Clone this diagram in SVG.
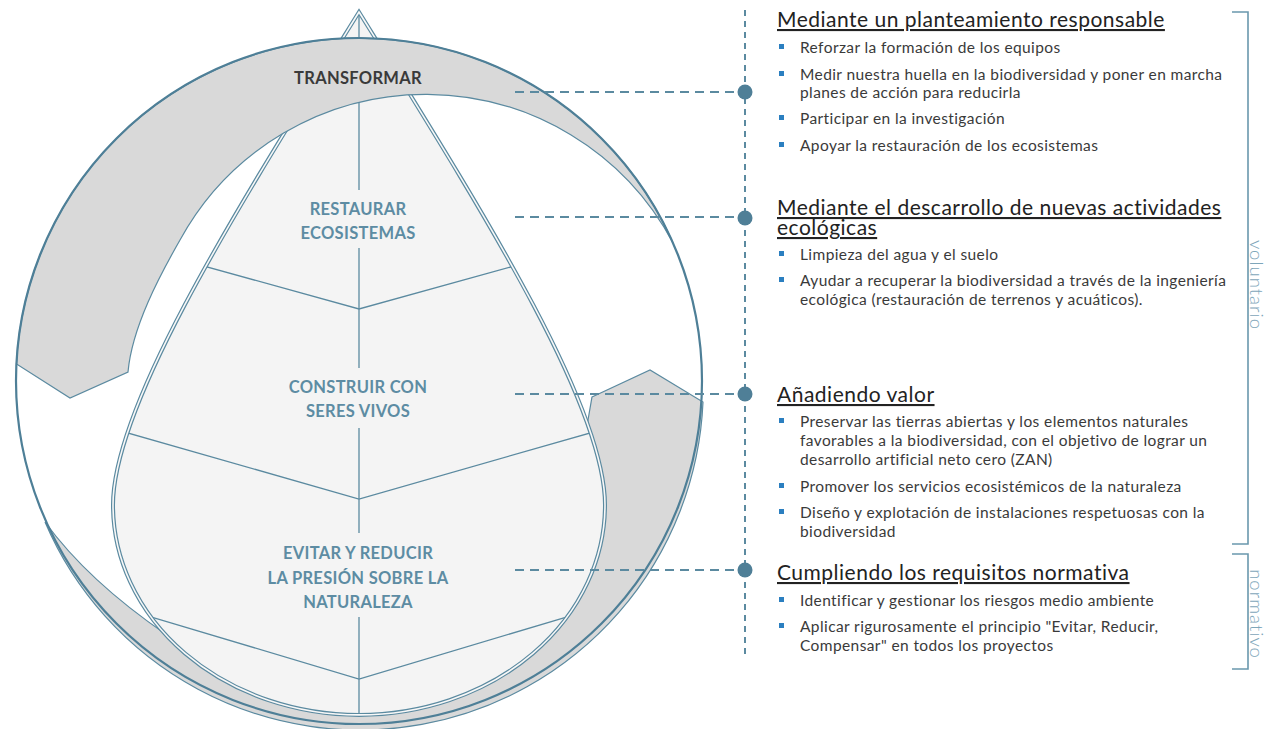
<svg xmlns="http://www.w3.org/2000/svg" width="1266" height="729" viewBox="0 0 1266 729">
<defs>
<style>
.ln{stroke:#5b8aa0;fill:none}
.band{fill:#d9d9d9;stroke:#5b8aa0;stroke-width:1.2}
.lbl{font-family:Lato,"Noto Sans",sans-serif;font-weight:700;font-size:16.5px;letter-spacing:0.3px;fill:#5d8ca3;text-anchor:middle}
.lbl.dark{fill:#3a3a3a}
.hd{font-family:Lato,"Noto Sans",sans-serif;font-size:21px;letter-spacing:0.5px;fill:#222;text-decoration:underline}
.bt{font-family:Lato,"Noto Sans",sans-serif;font-size:15.5px;letter-spacing:0.4px;fill:#3a3a3a}
.bul{fill:#2b7fc0}
.dash{stroke:#5b8aa0;stroke-width:2;stroke-dasharray:9 6;fill:none}
.vdash{stroke:#5b8aa0;stroke-width:2;stroke-dasharray:6 5;fill:none}
.dot{fill:#4f7f97}
.br{stroke:#6a98ad;stroke-width:1.6;fill:none}
.side{font-family:Lato,"Noto Sans",sans-serif;font-size:18.5px;letter-spacing:1px;fill:#7ea6ba;text-anchor:middle;font-weight:300}
</style>
<path id="dropShape" d="M359,12 C235,212 113,405 113,505 A246,210 0 0 0 605,505 C605,405 483,212 359,12 Z"/>
<clipPath id="dropClip"><use href="#dropShape"/></clipPath>
</defs>

<g id="circle">
<circle cx="359" cy="381" r="343" fill="#fff"/>
</g>

<g id="band-bottom">
<path class="band" d="M592,397 L650,370 L703,402 A343,343 0 0 1 45,522 Q88,581 167,635 L359,652 L585,440 L588,420 Z"/>
</g>

<g id="drop">
<use href="#dropShape" fill="#f4f4f4"/>
<g clip-path="url(#dropClip)" class="ln" stroke-width="1.3">
<path d="M359,12 V190 M359,248 V368 M359,428 V533 M359,617 V716"/>
<path d="M100,237.3 L359,309 L618,237.3"/>
<path d="M100,425 L359,499 L618,425"/>
<path d="M100,601.7 L359,679 L618,601.7"/>
</g>
<use href="#dropShape" fill="none" stroke="#5b8aa0" stroke-width="4"/>
<use href="#dropShape" fill="none" stroke="#f8f8f8" stroke-width="1.6"/>
</g>

<g id="band-top">
<path class="band" d="M16.5,364 A343,343 0 0 1 673,243 A280,280 0 0 0 180,240 C160,275 132,327 128,372 L70,398 Z"/>
</g>

<g id="circle-outline">
<circle cx="359" cy="381" r="343" fill="none" stroke="#4e7f97" stroke-width="2.2"/>
</g>

<g id="labels">
<text class="lbl dark" x="358" y="84">TRANSFORMAR</text>
<text class="lbl" x="358" y="215">RESTAURAR</text>
<text class="lbl" x="358" y="239">ECOSISTEMAS</text>
<text class="lbl" x="358" y="393">CONSTRUIR CON</text>
<text class="lbl" x="358" y="417">SERES VIVOS</text>
<text class="lbl" x="358" y="559">EVITAR Y REDUCIR</text>
<text class="lbl" x="358" y="584">LA PRESIÓN SOBRE LA</text>
<text class="lbl" x="358" y="608">NATURALEZA</text>
</g>

<g id="connectors">
<path class="vdash" d="M745,10 V658"/>
<path class="dash" d="M515,92 H745 M515,217 H745 M515,394 H745 M515,570 H745"/>
<circle class="dot" cx="745" cy="92" r="7.5"/>
<circle class="dot" cx="745" cy="218" r="7.5"/>
<circle class="dot" cx="745" cy="394" r="7.5"/>
<circle class="dot" cx="745" cy="570" r="7.5"/>
</g>

<g id="sec1">
<text class="hd" x="777" y="27">Mediante un planteamiento responsable</text>
<rect class="bul" x="779" y="44" width="5" height="5"/>
<text class="bt" x="800" y="53">Reforzar la formación de los equipos</text>
<rect class="bul" x="779" y="71" width="5" height="5"/>
<text class="bt" x="800" y="80">Medir nuestra huella en la biodiversidad y poner en marcha</text>
<text class="bt" x="800" y="98">planes de acción para reducirla</text>
<rect class="bul" x="779" y="115" width="5" height="5"/>
<text class="bt" x="800" y="124">Participar en la investigación</text>
<rect class="bul" x="779" y="142" width="5" height="5"/>
<text class="bt" x="800" y="151">Apoyar la restauración de los ecosistemas</text>
</g>

<g id="sec2">
<text class="hd" x="777" y="215">Mediante el descarrollo de nuevas actividades</text>
<text class="hd" x="777" y="235">ecológicas</text>
<rect class="bul" x="779" y="251" width="5" height="5"/>
<text class="bt" x="800" y="260">Limpieza del agua y el suelo</text>
<rect class="bul" x="779" y="277" width="5" height="5"/>
<text class="bt" x="800" y="286">Ayudar a recuperar la biodiversidad a través de la ingeniería</text>
<text class="bt" x="800" y="305">ecológica (restauración de terrenos y acuáticos).</text>
</g>

<g id="sec3">
<text class="hd" x="777" y="402">Añadiendo valor</text>
<rect class="bul" x="779" y="418" width="5" height="5"/>
<text class="bt" x="800" y="427">Preservar las tierras abiertas y los elementos naturales</text>
<text class="bt" x="800" y="446">favorables a la biodiversidad, con el objetivo de lograr un</text>
<text class="bt" x="800" y="465">desarrollo artificial neto cero (ZAN)</text>
<rect class="bul" x="779" y="483" width="5" height="5"/>
<text class="bt" x="800" y="492">Promover los servicios ecosistémicos de la naturaleza</text>
<rect class="bul" x="779" y="509" width="5" height="5"/>
<text class="bt" x="800" y="518">Diseño y explotación de instalaciones respetuosas con la</text>
<text class="bt" x="800" y="537">biodiversidad</text>
</g>

<g id="sec4">
<text class="hd" x="777" y="580">Cumpliendo los requisitos normativa</text>
<rect class="bul" x="779" y="597" width="5" height="5"/>
<text class="bt" x="800" y="606">Identificar y gestionar los riesgos medio ambiente</text>
<rect class="bul" x="779" y="623" width="5" height="5"/>
<text class="bt" x="800" y="632">Aplicar rigurosamente el principio "Evitar, Reducir,</text>
<text class="bt" x="800" y="651">Compensar" en todos los proyectos</text>
</g>

<g id="bracket-voluntario">
<path class="br" d="M1232,12 H1248 V544 H1232"/>
<text class="side" transform="translate(1256.5,285) rotate(90)" dominant-baseline="central">voluntario</text>
</g>
<g id="bracket-normativo">
<path class="br" d="M1232,554 H1248 V669 H1232"/>
<text class="side" transform="translate(1256.5,614) rotate(90)" dominant-baseline="central">normativo</text>
</g>
</svg>
